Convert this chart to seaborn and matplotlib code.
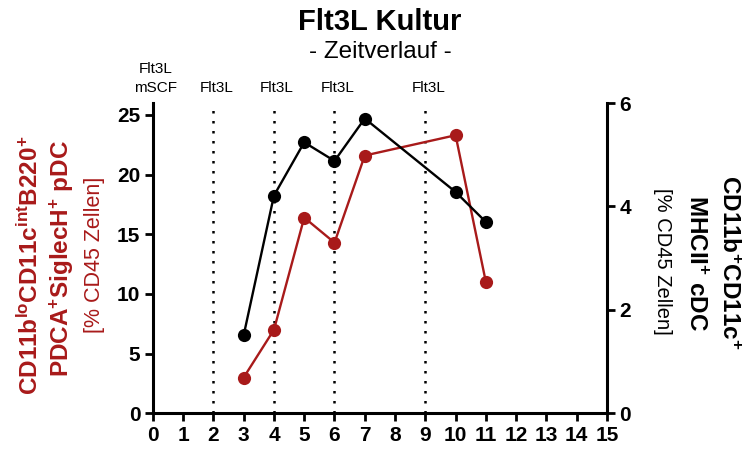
import matplotlib
matplotlib.use("Agg")
import matplotlib.pyplot as plt
import matplotlib.transforms as mtransforms
import seaborn as sns
import pandas as pd

sns.set_style("white")
plt.rcParams['font.family'] = ['Liberation Sans', 'DejaVu Sans']
plt.rcParams['mathtext.fontset'] = 'custom'
plt.rcParams['mathtext.rm'] = 'Liberation Sans'
plt.rcParams['mathtext.bf'] = 'Liberation Sans:bold'
plt.rcParams['mathtext.it'] = 'Liberation Sans:italic'
plt.rcParams['text.color'] = 'black'
plt.rcParams['xtick.color'] = 'black'
plt.rcParams['ytick.color'] = 'black'
plt.rcParams['axes.labelcolor'] = 'black'

# Data
days = [3, 4, 5, 6, 7, 10, 11]
pdc_values = [3.0, 7.0, 16.4, 14.3, 21.6, 23.3, 11.0]      # left axis (red)
cdc_values = [1.51, 4.21, 5.24, 4.88, 5.70, 4.28, 3.70]    # right axis (black)
feed_days = [2, 4, 6, 9]
feed_labels = ["Flt3L", "Flt3L", "Flt3L", "Flt3L"]
start_label = "Flt3L\nmSCF"
x_ticks = list(range(0, 16))
left_ticks = [0, 5, 10, 15, 20, 25]
right_ticks = [0, 2, 4, 6]

RED = "#A81A1A"

df = pd.DataFrame({"day": days, "pdc": pdc_values, "cdc": cdc_values})

fig = plt.figure(figsize=(7.42, 4.53), dpi=100)
ax = fig.add_axes([0.206, 0.0876, 0.612, 0.685])
ax2 = ax.twinx()

for d in feed_days:
    ax.axvline(d, color="black", lw=1.8, linestyle=(0, (1, 3.0)), zorder=1)

sns.lineplot(data=df, x="day", y="pdc", ax=ax, color=RED, marker="o",
             markersize=9.5, markeredgewidth=0, linewidth=1.7, zorder=3)
sns.lineplot(data=df, x="day", y="cdc", ax=ax2, color="black", marker="o",
             markersize=9.5, markeredgewidth=0, linewidth=1.7, zorder=3)

ax.set_xlim(0, 15)
ax.set_ylim(0, 26)
ax2.set_ylim(0, 6)
ax.set_xticks(x_ticks)
ax.set_yticks(left_ticks)
ax2.set_yticks(right_ticks)
ax.set_xlabel("")
ax.set_ylabel("")
ax2.set_ylabel("")

for a in (ax, ax2):
    for s in a.spines.values():
        s.set_linewidth(2.2)
        s.set_color("black")
    a.spines["top"].set_visible(False)
    a.tick_params(axis="both", direction="out", length=6, width=2, labelsize=15,
                  color="black", labelcolor="black", pad=3)
ax.spines["right"].set_visible(False)
ax2.spines["left"].set_visible(False)
ax2.spines["bottom"].set_visible(False)
ax.tick_params(axis="y", left=True)
ax.tick_params(axis="x", bottom=True)
ax2.tick_params(axis="y", right=True)
for lab in ax.get_xticklabels() + ax.get_yticklabels() + ax2.get_yticklabels():
    lab.set_fontweight("bold")
ax.grid(False)
ax2.grid(False)

trans = mtransforms.blended_transform_factory(ax.transData, ax.transAxes)
for d, lab in zip(feed_days, feed_labels):
    ax.text(d + 0.1, 1.025, lab, transform=trans, ha="center", va="bottom", fontsize=11)
ax.text(0.1, 1.025, start_label, transform=trans, ha="center", va="bottom",
        fontsize=11, linespacing=1.45)

fig.text(0.512, 0.952, "Flt3L Kultur", ha="center", va="center",
         fontsize=21, fontweight="bold")
fig.text(0.512, 0.885, "- Zeitverlauf -", ha="center", va="center", fontsize=17.5)

# Left labels
fig.text(0.040, 0.415, r"CD11b$^{\mathbf{lo}}$CD11c$^{\mathbf{int}}$B220$^{\mathbf{+}}$",
         rotation=90, ha="center", va="center", fontsize=17.5, fontweight="bold", color=RED)
fig.text(0.083, 0.43, r"PDCA$^{\mathbf{+}}$SiglecH$^{\mathbf{+}}$ pDC",
         rotation=90, ha="center", va="center", fontsize=17.5, fontweight="bold", color=RED)
fig.text(0.127, 0.437, "[% CD45 Zellen]", rotation=90, ha="center", va="center",
         fontsize=15.5, color=RED)

# Right labels
fig.text(0.982, 0.422, r"CD11b$^{\mathbf{+}}$CD11c$^{\mathbf{+}}$",
         rotation=270, ha="center", va="center", fontsize=17.5, fontweight="bold")
fig.text(0.938, 0.42, r"MHCII$^{\mathbf{+}}$ cDC",
         rotation=270, ha="center", va="center", fontsize=17.5, fontweight="bold")
fig.text(0.893, 0.422, "[% CD45 Zellen]", rotation=270, ha="center", va="center",
         fontsize=14.5)

fig.savefig("out.png", dpi=100)
